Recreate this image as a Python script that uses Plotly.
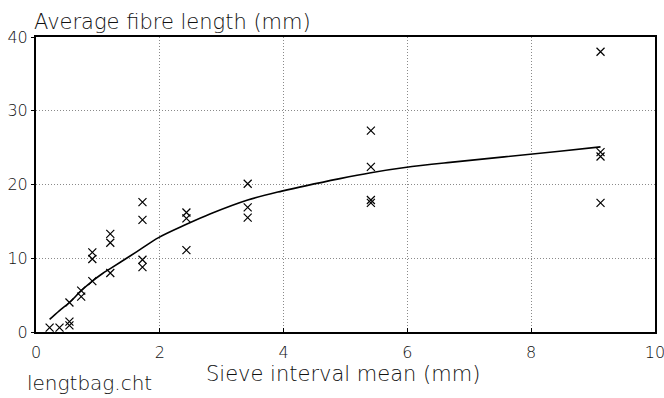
import plotly.graph_objects as go

# Measured points (sieve interval mean, average fibre length)
sieve_x = [0.22, 0.38, 0.54, 0.54, 0.54, 0.73, 0.73, 0.91, 0.91, 0.91,
           1.2, 1.2, 1.2, 1.72, 1.72, 1.72, 1.72, 2.43, 2.43, 2.43,
           3.42, 3.42, 3.42, 5.41, 5.41, 5.41, 5.41, 9.12, 9.12, 9.12, 9.12]
fibre_len = [0.6, 0.6, 4.0, 1.4, 0.9, 5.6, 4.8, 10.8, 9.9, 6.9,
             13.3, 12.1, 8.0, 17.6, 15.2, 9.8, 8.8, 16.2, 15.4, 11.1,
             20.1, 16.9, 15.5, 27.3, 22.4, 17.9, 17.5, 38.0, 24.4, 23.8, 17.5]

# Fitted curve
curve_x = [0.22, 0.38, 0.54, 0.73, 0.91, 1.07, 1.2, 1.52, 1.72, 1.98, 2.43,
           2.81, 3.42, 3.97, 4.91, 5.41, 5.96, 6.69, 8.46, 9.12]
curve_y = [1.7, 2.9, 4.0, 5.6, 6.9, 7.9, 8.6, 10.3, 11.4, 12.8, 14.6,
           16.0, 17.9, 19.1, 20.8, 21.6, 22.3, 23.0, 24.5, 25.1]

x_ticks = [0, 2, 4, 6, 8, 10]
y_ticks = [0, 10, 20, 30, 40]

FONT = "DejaVu Sans"
INK = "#111111"

fig = go.Figure()
fig.add_trace(go.Scatter(x=curve_x, y=curve_y, mode="lines",
                         line=dict(color="black", width=1.6, shape="spline"),
                         hoverinfo="skip", showlegend=False))
fig.add_trace(go.Scatter(x=sieve_x, y=fibre_len, mode="markers",
                         marker=dict(symbol="x-thin-open", size=8, color="black",
                                     line=dict(color="black", width=1.2)),
                         showlegend=False))

fig.update_layout(
    width=664, height=398,
    margin=dict(l=35.5, r=9, t=36.7, b=66.3),
    paper_bgcolor="white", plot_bgcolor="white",
    font=dict(family=FONT, color=INK, size=16),
    xaxis=dict(range=[0, 10], tickvals=x_ticks, ticktext=[str(v) for v in x_ticks],
               showgrid=True, gridcolor="#8a8a8a", griddash="1px,2px", gridwidth=1,
               zeroline=False, showline=True, linecolor="black", linewidth=2,
               mirror=True, ticks="inside", ticklen=4, tickcolor="black",
               automargin=False, ticklabelstandoff=5, ticklabeloverflow="allow",
               tickfont=dict(family=FONT, size=16, color=INK, weight=200)),
    yaxis=dict(range=[0, 40], tickvals=y_ticks, ticktext=[str(v) for v in y_ticks],
               showgrid=True, gridcolor="#8a8a8a", griddash="1px,2px", gridwidth=1,
               zeroline=False, showline=True, linecolor="black", linewidth=2,
               mirror=True, ticks="outside", ticklen=3, tickcolor="black",
               automargin=False, ticklabeloverflow="allow",
               tickfont=dict(family=FONT, size=16, color=INK, weight=200)),
    annotations=[
        dict(text="Average fibre length (mm)", xref="paper", yref="paper",
             x=0, y=1, xanchor="left", yanchor="bottom", yshift=1, xshift=-4,
             showarrow=False, font=dict(family=FONT, size=21, color=INK, weight=200)),
        dict(text="Sieve interval mean (mm)", xref="paper", yref="paper",
             x=0.496, y=0, xanchor="center", yanchor="top", yshift=-28, showarrow=False,
             font=dict(family=FONT, size=21, color=INK, weight=200)),
        dict(text="lengtbag.cht", xref="paper", yref="paper",
             x=-0.017, y=0, xanchor="left", yanchor="bottom", yshift=-65, showarrow=False,
             font=dict(family=FONT, size=20, color=INK, weight=200)),
    ],
)

fig.write_html("out.html", config={"displayModeBar": False},
               post_script="document.body.style.margin='0';")
